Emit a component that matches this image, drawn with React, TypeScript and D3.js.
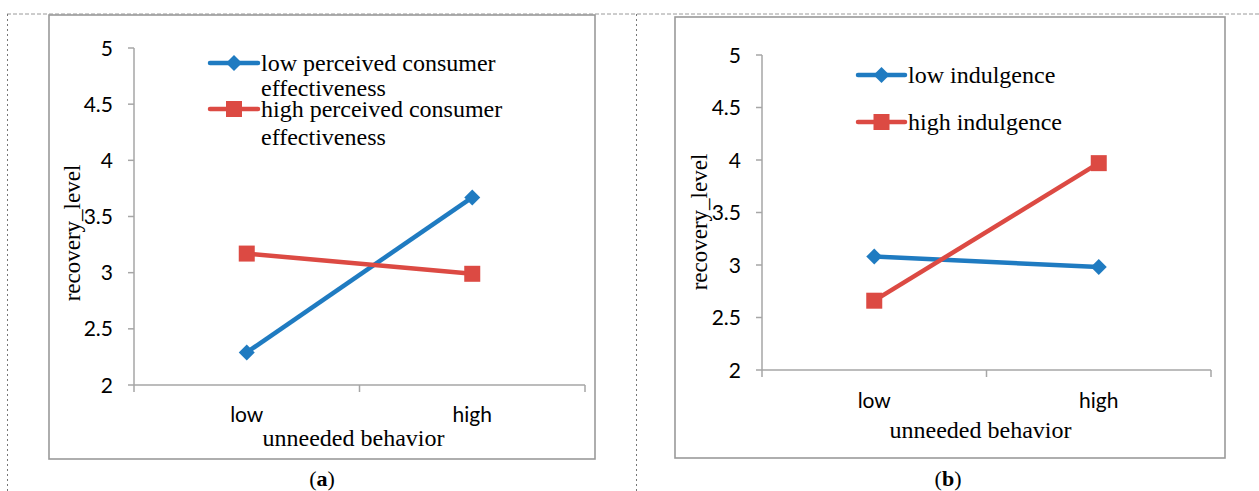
import React from "react";
import * as d3 from "d3";

const categories = ["low", "high"];
const yTicks = [2, 2.5, 3, 3.5, 4, 4.5, 5];

const aLegend = [
  ["low perceived consumer", "effectiveness"],
  ["high perceived consumer", "effectiveness"],
];
const aLowPCE = [2.29, 3.67];
const aHighPCE = [3.17, 2.99];

const bLegend = [["low indulgence"], ["high indulgence"]];
const bLowInd = [3.08, 2.98];
const bHighInd = [2.66, 3.97];

const BLUE = "#1f7bc1";
const RED = "#dc4a43";
const AXIS = "#a6a6a6";
const SANS = "Lato, 'Open Sans', sans-serif";
const SERIF = "'Liberation Serif', 'Times New Roman', serif";

type PanelProps = {
  box: [number, number, number, number];
  x0: number;
  x1: number;
  yTop: number;
  yBot: number;
  series: number[][];
  legend: string[][];
  legendPos: { lx0: number; lx1: number; ys: number[]; lineGap: number[] };
  titleX: number;
  titleY: number;
  xLabelY: number;
  xTitleY: number;
  tag: string;
  tagX: number;
};

function Panel(p: PanelProps) {
  const y = d3.scaleLinear().domain([2, 5]).range([p.yBot, p.yTop]);
  const x = d3.scaleBand().domain(categories).range([p.x0, p.x1]);
  const cx = (c: string) => (x(c) as number) + x.bandwidth() / 2;
  const line = d3
    .line<number>()
    .x((_, i) => cx(categories[i]))
    .y((d) => y(d));
  const colors = [BLUE, RED];
  const [bx, by, bw, bh] = p.box;
  const marker = (k: number, mx: number, my: number, key: string) =>
    k === 0 ? (
      <path
        key={key}
        d={`M${mx},${my - 8}L${mx + 8},${my}L${mx},${my + 8}L${mx - 8},${my}Z`}
        fill={BLUE}
      />
    ) : (
      <rect key={key} x={mx - 8} y={my - 8} width={16} height={16} fill={RED} />
    );
  const xTicks = [p.x0, ...categories.map((c) => (x(c) as number) + x.bandwidth())];
  return (
    <g>
      <rect x={bx} y={by} width={bw} height={bh} fill="#fff" stroke="#9a9a9a" strokeWidth={1.6} />
      {/* y axis */}
      <line x1={p.x0} x2={p.x0} y1={y(2)} y2={y(5)} stroke={AXIS} strokeWidth={1.5} />
      {yTicks.map((t) => (
        <g key={t}>
          <line x1={p.x0 - 6} x2={p.x0} y1={y(t)} y2={y(t)} stroke={AXIS} strokeWidth={1.5} />
          <text
            x={p.x0 - 21}
            y={y(t)}
            dy="0.36em"
            textAnchor="end"
            fontFamily={SANS}
            fontSize={21}
            fill="#000"
          >
            {t}
          </text>
        </g>
      ))}
      {/* x axis */}
      <line x1={p.x0} x2={p.x1} y1={y(2)} y2={y(2)} stroke={AXIS} strokeWidth={1.5} />
      {xTicks.map((t, i) => (
        <line key={i} x1={t} x2={t} y1={y(2)} y2={y(2) + 7} stroke={AXIS} strokeWidth={1.5} />
      ))}
      {categories.map((c) => (
        <text
          key={c}
          x={cx(c)}
          y={p.xLabelY}
          textAnchor="middle"
          fontFamily={SANS}
          fontSize={21}
          fill="#000"
        >
          {c}
        </text>
      ))}
      <text
        x={(p.x0 + p.x1) / 2 - 6}
        y={p.xTitleY}
        textAnchor="middle"
        fontFamily={SERIF}
        fontSize={24}
        fill="#000"
      >
        unneeded behavior
      </text>
      <text
        transform={`translate(${p.titleX},${p.titleY}) rotate(-90)`}
        textAnchor="middle"
        fontFamily={SERIF}
        fontSize={23}
        fill="#000"
      >
        recovery_level
      </text>
      {/* series */}
      {p.series.map((s, k) => (
        <g key={k}>
          <path d={line(s) as string} fill="none" stroke={colors[k]} strokeWidth={4.5} />
          {s.map((v, i) => marker(k, cx(categories[i]), y(v), `m${i}`))}
        </g>
      ))}
      {/* legend */}
      {p.legend.map((lines, k) => {
        const ly = p.legendPos.ys[k];
        const mid = (p.legendPos.lx0 + p.legendPos.lx1) / 2;
        return (
          <g key={k}>
            <line
              x1={p.legendPos.lx0}
              x2={p.legendPos.lx1}
              y1={ly}
              y2={ly}
              stroke={colors[k]}
              strokeWidth={4.5}
              strokeLinecap="round"
            />
            {marker(k, mid, ly, "lm")}
            {lines.map((t, j) => (
              <text
                key={j}
                x={p.legendPos.lx1 + 3}
                y={ly + 8 + j * p.legendPos.lineGap[k]}
                fontFamily={SERIF}
                fontSize={24}
                fill="#000"
              >
                {t}
              </text>
            ))}
          </g>
        );
      })}
      <text x={p.tagX} y={486} textAnchor="middle" fontFamily={SERIF} fontSize={22} fill="#000">
        (<tspan fontWeight="bold">{p.tag}</tspan>)
      </text>
    </g>
  );
}

export default function App() {
  return (
    <div style={{ position: "absolute", left: 0, top: 0 }}>
      <svg width={1259} height={491} style={{ display: "block" }}>
        <rect width={1259} height={491} fill="#fff" />
        <line x1={7} x2={1259} y1={14} y2={14} stroke="#9a9a9a" strokeWidth={1} strokeDasharray="4,2" />
        <line x1={7.5} x2={7.5} y1={14} y2={491} stroke="#777" strokeWidth={1} strokeDasharray="2,3" />
        <line x1={636.5} x2={636.5} y1={14} y2={491} stroke="#777" strokeWidth={1} strokeDasharray="2,3" />
        <Panel
          box={[49, 15, 546, 444]}
          x0={134}
          x1={585}
          yTop={48}
          yBot={385}
          series={[aLowPCE, aHighPCE]}
          legend={aLegend}
          legendPos={{ lx0: 210, lx1: 258, ys: [63, 109], lineGap: [25, 28] }}
          titleX={80}
          titleY={233}
          xLabelY={422}
          xTitleY={446}
          tag="a"
          tagX={322}
        />
        <Panel
          box={[675, 17, 550, 441]}
          x0={762}
          x1={1211}
          yTop={55}
          yBot={370}
          series={[bLowInd, bHighInd]}
          legend={bLegend}
          legendPos={{ lx0: 858, lx1: 905, ys: [75, 122], lineGap: [0, 0] }}
          titleX={707}
          titleY={222}
          xLabelY={408}
          xTitleY={438}
          tag="b"
          tagX={948}
        />
      </svg>
    </div>
  );
}
